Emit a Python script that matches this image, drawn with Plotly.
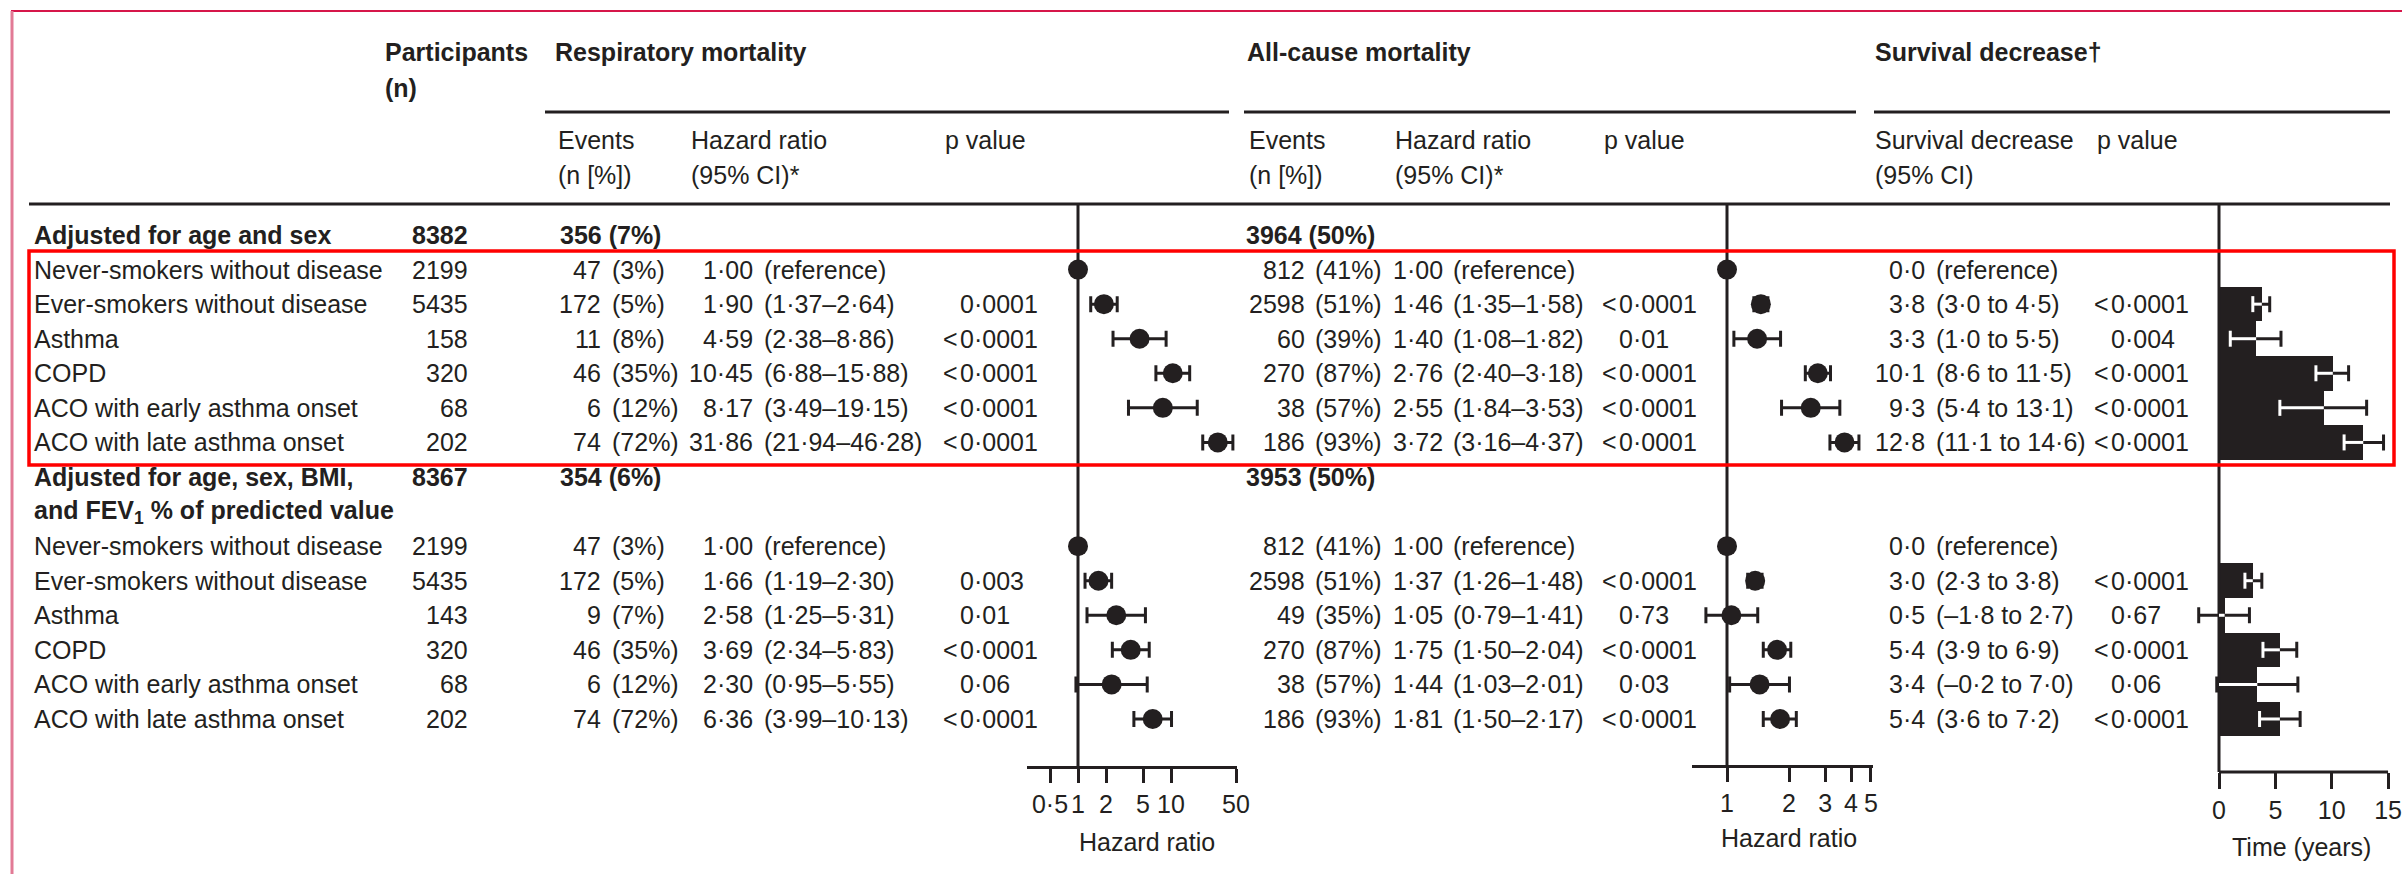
import plotly.graph_objects as go

W, H = 2402, 874
INK = "#231f20"
FONT = "Liberation Sans, Arial, Helvetica, sans-serif"
FS = 25

# ---------------- data ----------------
categories = [
    "Never-smokers without disease",
    "Ever-smokers without disease",
    "Asthma",
    "COPD",
    "ACO with early asthma onset",
    "ACO with late asthma onset",
]
group_titles = [
    ["Adjusted for age and sex"],
    ["Adjusted for age, sex, BMI,", "and FEV<sub>1</sub> % of predicted value"],
]
group_n = [8382, 8367]
group_resp_events = [356, 354]
group_resp_pct = [7, 6]
group_all_events = [3964, 3953]
group_all_pct = [50, 50]

participants = [
    [2199, 5435, 158, 320, 68, 202],
    [2199, 5435, 143, 320, 68, 202],
]
resp_events = [
    [47, 172, 11, 46, 6, 74],
    [47, 172, 9, 46, 6, 74],
]
resp_pct = [
    [3, 5, 8, 35, 12, 72],
    [3, 5, 7, 35, 12, 72],
]
resp_hr = [
    [1.00, 1.90, 4.59, 10.45, 8.17, 31.86],
    [1.00, 1.66, 2.58, 3.69, 2.30, 6.36],
]
resp_lo = [
    [None, 1.37, 2.38, 6.88, 3.49, 21.94],
    [None, 1.19, 1.25, 2.34, 0.95, 3.99],
]
resp_hi = [
    [None, 2.64, 8.86, 15.88, 19.15, 46.28],
    [None, 2.30, 5.31, 5.83, 5.55, 10.13],
]
resp_p = [
    ["", "0·0001", "<0·0001", "<0·0001", "<0·0001", "<0·0001"],
    ["", "0·003", "0·01", "<0·0001", "0·06", "<0·0001"],
]
all_events = [
    [812, 2598, 60, 270, 38, 186],
    [812, 2598, 49, 270, 38, 186],
]
all_pct = [
    [41, 51, 39, 87, 57, 93],
    [41, 51, 35, 87, 57, 93],
]
all_hr = [
    [1.00, 1.46, 1.40, 2.76, 2.55, 3.72],
    [1.00, 1.37, 1.05, 1.75, 1.44, 1.81],
]
all_lo = [
    [None, 1.35, 1.08, 2.40, 1.84, 3.16],
    [None, 1.26, 0.79, 1.50, 1.03, 1.50],
]
all_hi = [
    [None, 1.58, 1.82, 3.18, 3.53, 4.37],
    [None, 1.48, 1.41, 2.04, 2.01, 2.17],
]
all_p = [
    ["", "<0·0001", "0·01", "<0·0001", "<0·0001", "<0·0001"],
    ["", "<0·0001", "0·73", "<0·0001", "0·03", "<0·0001"],
]
surv = [
    [0.0, 3.8, 3.3, 10.1, 9.3, 12.8],
    [0.0, 3.0, 0.5, 5.4, 3.4, 5.4],
]
surv_lo = [
    [None, 3.0, 1.0, 8.6, 5.4, 11.1],
    [None, 2.3, -1.8, 3.9, -0.2, 3.6],
]
surv_hi = [
    [None, 4.5, 5.5, 11.5, 13.1, 14.6],
    [None, 3.8, 2.7, 6.9, 7.0, 7.2],
]
surv_p = [
    ["", "<0·0001", "0·004", "<0·0001", "<0·0001", "<0·0001"],
    ["", "<0·0001", "0·67", "<0·0001", "0·06", "<0·0001"],
]

resp_ticks = [0.5, 1, 2, 5, 10, 50]
resp_tick_text = ["0·5", "1", "2", "5", "10", "50"]
all_ticks = [1, 2, 3, 4, 5]
all_tick_text = ["1", "2", "3", "4", "5"]
surv_ticks = [0, 5, 10, 15]
surv_tick_text = ["0", "5", "10", "15"]
REF_HR = 1.0
REF_SURV = 0.0

# ---------------- layout helpers ----------------
ROW0_PX = 235.0      # pixel centre of the first table row
ROW_STEP = 34.57     # pixel height of one table row
title_rows = [0, 7]
data_rows = [[1, 2, 3, 4, 5, 6], [9, 10, 11, 12, 13, 14]]


def px_x(px):
    return px / W


def px_y(py):
    return 1 - py / H


def row_of(py):
    return (py - ROW0_PX) / ROW_STEP


def fmt(v, d):
    s = f"{abs(v):.{d}f}".replace(".", "·")
    return ("–" + s) if v < 0 else s


annotations = []


def text(x_px, y, s, anchor="left", paper_y=False, bold=False, size=FS):
    if bold:
        s = f"<b>{s}</b>"
    annotations.append(dict(
        x=px_x(x_px), xref="paper",
        y=px_y(y) if paper_y else y, yref="paper" if paper_y else "y",
        text=s, showarrow=False, xanchor=anchor, yanchor="middle",
        font=dict(family=FONT, size=size, color=INK),
    ))


def pvalue(x_px, y, s):
    if not s:
        return
    if s.startswith("<"):
        text(x_px + 1, y, "<", anchor="right")
        text(x_px - 1, y, s[1:])
    else:
        text(x_px - 1, y, s)


# column positions (px)
C_LABEL = 32
C_N = 470
C_RE_N, C_RE_PCT, C_RE_HR, C_RE_CI, C_RE_P = 603, 610, 755, 762, 959
C_AL_N, C_AL_PCT, C_AL_HR, C_AL_CI, C_AL_P = 1307, 1313, 1445, 1451, 1618
C_SV_V, C_SV_CI, C_SV_P = 1927, 1934, 2110

# ---------------- header ----------------
text(383, 52, "Participants", paper_y=True, bold=True)
text(383, 88, "(n)", paper_y=True, bold=True)
text(553, 52, "Respiratory mortality", paper_y=True, bold=True)
text(1245, 52, "All-cause mortality", paper_y=True, bold=True)
text(1873, 52, "Survival decrease†", paper_y=True, bold=True)

for x0, hdr in [(556, "Events"), (1247, "Events")]:
    text(x0, 140, hdr, paper_y=True)
    text(x0, 175, "(n [%])", paper_y=True)
for x0 in (689, 1393):
    text(x0, 140, "Hazard ratio", paper_y=True)
    text(x0, 175, "(95% CI)*", paper_y=True)
text(943, 140, "p value", paper_y=True)
text(1602, 140, "p value", paper_y=True)
text(1873, 140, "Survival decrease", paper_y=True)
text(1873, 175, "(95% CI)", paper_y=True)
text(2095, 140, "p value", paper_y=True)

# ---------------- table body ----------------
for g in range(2):
    r0 = title_rows[g]
    for k, line in enumerate(group_titles[g]):
        text(C_LABEL, r0 + k, line, bold=True)
    text(C_N, r0, str(group_n[g]), anchor="right", bold=True)
    text(558, r0, f"{group_resp_events[g]} ({group_resp_pct[g]}%)", bold=True)
    text(1244, r0, f"{group_all_events[g]} ({group_all_pct[g]}%)", bold=True)

    for i, r in enumerate(data_rows[g]):
        text(C_LABEL, r, categories[i])
        text(C_N, r, str(participants[g][i]), anchor="right")

        text(C_RE_N, r, str(resp_events[g][i]), anchor="right")
        text(C_RE_PCT, r, f"({resp_pct[g][i]}%)")
        text(C_RE_HR, r, fmt(resp_hr[g][i], 2), anchor="right")
        ci = "(reference)" if resp_lo[g][i] is None else \
            f"({fmt(resp_lo[g][i], 2)}–{fmt(resp_hi[g][i], 2)})"
        text(C_RE_CI, r, ci)
        pvalue(C_RE_P, r, resp_p[g][i])

        text(C_AL_N, r, str(all_events[g][i]), anchor="right")
        text(C_AL_PCT, r, f"({all_pct[g][i]}%)")
        text(C_AL_HR, r, fmt(all_hr[g][i], 2), anchor="right")
        ci = "(reference)" if all_lo[g][i] is None else \
            f"({fmt(all_lo[g][i], 2)}–{fmt(all_hi[g][i], 2)})"
        text(C_AL_CI, r, ci)
        pvalue(C_AL_P, r, all_p[g][i])

        text(C_SV_V, r, fmt(surv[g][i], 1), anchor="right")
        ci = "(reference)" if surv_lo[g][i] is None else \
            f"({fmt(surv_lo[g][i], 1)} to {fmt(surv_hi[g][i], 1)})"
        text(C_SV_CI, r, ci)
        pvalue(C_SV_P, r, surv_p[g][i])

# axis captions
text(1147, 842, "Hazard ratio", anchor="center", paper_y=True)
text(1789, 838, "Hazard ratio", anchor="center", paper_y=True)
text(2301, 847, "Time (years)", anchor="center", paper_y=True)

# ---------------- marks ----------------
fig = go.Figure()
rows_all = data_rows[0] + data_rows[1]


def ref_line(xaxis, xv, ybot_px):
    # vertical reference line from the header rule down to the axis
    fig.add_trace(go.Scatter(
        x=[xv, xv], y=[row_of(204), row_of(ybot_px)], mode="lines",
        line=dict(color=INK, width=3), xaxis=xaxis, yaxis="y",
        hoverinfo="skip",
    ))


def forest(xaxis, hr, lo, hi):
    hr_f = hr[0] + hr[1]
    lo_f = lo[0] + lo[1]
    hi_f = hi[0] + hi[1]
    ci_idx = [k for k in range(len(hr_f)) if lo_f[k] is not None]
    ref_idx = [k for k in range(len(hr_f)) if lo_f[k] is None]
    fig.add_trace(go.Scatter(
        x=[hr_f[k] for k in ci_idx], y=[rows_all[k] for k in ci_idx],
        mode="markers", xaxis=xaxis, yaxis="y", hoverinfo="skip",
        marker=dict(size=20, color=INK),
        error_x=dict(type="data", symmetric=False,
                     array=[hi_f[k] - hr_f[k] for k in ci_idx],
                     arrayminus=[hr_f[k] - lo_f[k] for k in ci_idx],
                     color=INK, thickness=3, width=8),
    ))
    fig.add_trace(go.Scatter(
        x=[hr_f[k] for k in ref_idx], y=[rows_all[k] for k in ref_idx],
        mode="markers", xaxis=xaxis, yaxis="y", hoverinfo="skip",
        marker=dict(size=20, color=INK),
    ))


ref_line("x", REF_HR, 767)
ref_line("x2", REF_HR, 766)
ref_line("x3", REF_SURV, 772)

forest("x", resp_hr, resp_lo, resp_hi)
forest("x2", all_hr, all_lo, all_hi)

# survival decrease bars
sv = surv[0] + surv[1]
sv_lo = surv_lo[0] + surv_lo[1]
sv_hi = surv_hi[0] + surv_hi[1]
fig.add_trace(go.Bar(
    x=sv, y=rows_all, orientation="h", width=1.0, base=0,
    marker=dict(color=INK, line=dict(width=0)),
    xaxis="x3", yaxis="y", hoverinfo="skip",
))
ci_idx = [k for k in range(len(sv)) if sv_lo[k] is not None]
fig.add_trace(go.Scatter(
    x=[sv[k] for k in ci_idx], y=[rows_all[k] for k in ci_idx],
    mode="markers", marker=dict(size=1, color="rgba(0,0,0,0)"),
    xaxis="x3", yaxis="y", hoverinfo="skip",
    error_x=dict(type="data", symmetric=False,
                 array=[sv_hi[k] - sv[k] for k in ci_idx],
                 arrayminus=[sv[k] - sv_lo[k] for k in ci_idx],
                 color=INK, thickness=3, width=8),
))
# part of each interval lying inside its bar is drawn in white
cap = 8 / ROW_STEP
wx, wy = [], []
for k in ci_idx:
    a, b = max(sv_lo[k], 0.0), min(sv_hi[k], sv[k])
    if b > a:
        wx += [a, b, None]
        wy += [rows_all[k], rows_all[k], None]
    if sv_lo[k] > 0:
        wx += [sv_lo[k], sv_lo[k], None]
        wy += [rows_all[k] - cap, rows_all[k] + cap, None]
fig.add_trace(go.Scatter(
    x=wx, y=wy, mode="lines", line=dict(color="white", width=3),
    xaxis="x3", yaxis="y", hoverinfo="skip",
))
# survival axis baseline, 0 to 15 years
fig.add_trace(go.Scatter(
    x=[surv_ticks[0], surv_ticks[-1]], y=[row_of(772), row_of(772)],
    mode="lines", line=dict(color=INK, width=3),
    xaxis="x3", yaxis="y", hoverinfo="skip",
))

# ---------------- axes ----------------
tickfont = dict(family=FONT, size=FS, color=INK)
common = dict(anchor="free", showgrid=False, zeroline=False, ticks="outside",
              tickwidth=3, tickcolor=INK, linecolor=INK, linewidth=3,
              tickmode="array", tickfont=tickfont, fixedrange=True)

r1_px0, r1_px1, r1_ref, r1_dec = 1027, 1237, 1078, 93.0
r2_px0, r2_px1, r2_ref, r2_dec = 1692, 1873, 1727, 206.0
s_px0, s_px1, s_zero, s_unit = 2190, 2400, 2219, 11.27

fig.update_layout(
    xaxis=dict(type="log", domain=[px_x(r1_px0), px_x(r1_px1)],
               range=[(r1_px0 - r1_ref) / r1_dec, (r1_px1 - r1_ref) / r1_dec],
               position=px_y(767), showline=True, ticklen=14,
               tickvals=resp_ticks, ticktext=resp_tick_text, **common),
    xaxis2=dict(type="log", domain=[px_x(r2_px0), px_x(r2_px1)],
                range=[(r2_px0 - r2_ref) / r2_dec, (r2_px1 - r2_ref) / r2_dec],
                position=px_y(766), showline=True, ticklen=14,
                tickvals=all_ticks, ticktext=all_tick_text, **common),
    xaxis3=dict(type="linear", domain=[px_x(s_px0), px_x(s_px1)],
                range=[(s_px0 - s_zero) / s_unit, (s_px1 - s_zero) / s_unit],
                position=px_y(772), showline=False, ticklen=16,
                tickvals=surv_ticks, ticktext=surv_tick_text, **common),
    yaxis=dict(domain=[0, 1], visible=False, fixedrange=True,
               range=[(H - ROW0_PX) / ROW_STEP, -ROW0_PX / ROW_STEP]),
    width=W, height=H, margin=dict(l=0, r=0, t=0, b=0, autoexpand=False),
    paper_bgcolor="white", plot_bgcolor="rgba(0,0,0,0)",
    showlegend=False, bargap=0, annotations=annotations,
)

# ---------------- rules and frame ----------------
shapes = []


def pline(x0, y0, x1, y1, color=INK, width=3):
    shapes.append(dict(type="line", xref="paper", yref="paper",
                       x0=px_x(x0), x1=px_x(x1), y0=px_y(y0), y1=px_y(y1),
                       line=dict(color=color, width=width)))


# page frame
pline(11, 11, W, 11, color="#d6164a", width=2)
pline(12, 11, 12, H, color="#e27a95", width=3)
# header rules
pline(545, 112, 1229, 112)
pline(1244, 112, 1856, 112)
pline(1874, 112, 2390, 112)
pline(29, 204, 2390, 204)

# highlight box round the first adjustment block
shapes.append(dict(type="rect", xref="paper", yref="paper",
                   x0=px_x(29), x1=px_x(2394), y0=px_y(251), y1=px_y(465),
                   line=dict(color="#ff0000", width=3.5)))

fig.update_layout(shapes=shapes)
fig.write_html("out.html")
